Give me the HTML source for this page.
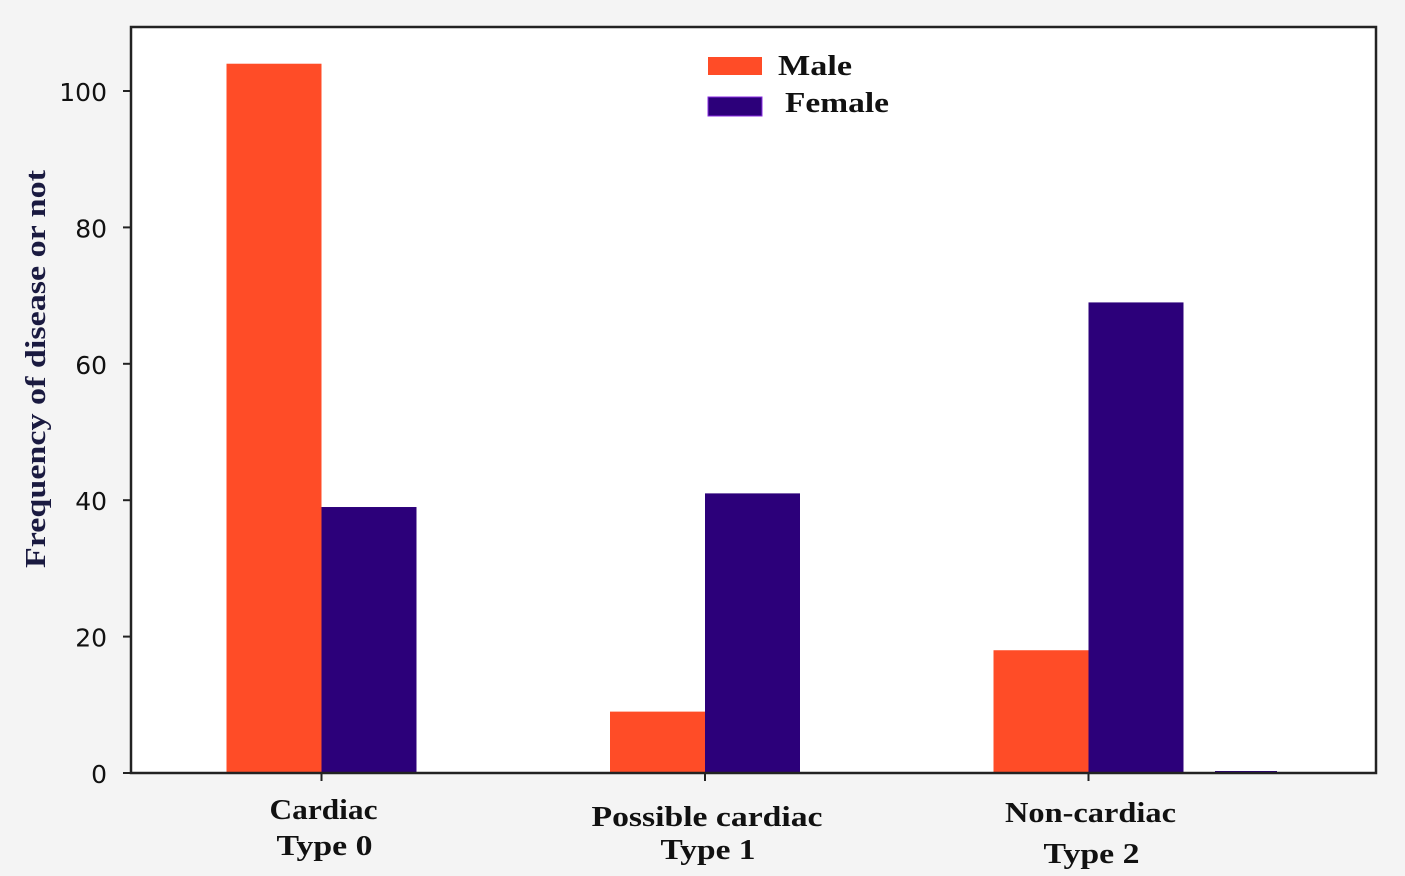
<!DOCTYPE html>
<html><head><meta charset="utf-8"><style>
html,body{margin:0;padding:0;background:#f4f4f4;width:1405px;height:876px;overflow:hidden}
svg{display:block}
</style></head><body>
<svg id="chart" width="1405" height="876" xmlns="http://www.w3.org/2000/svg">
<rect x="0" y="0" width="1405" height="876" fill="#f4f4f4"/>
<rect x="131" y="27" width="1245" height="746" fill="#ffffff"/>
<g id="bars"></g>
<rect x="131" y="27" width="1245" height="746" fill="none" stroke="#222" stroke-width="2.5"/>
<g id="axes"></g>
<text transform="translate(45,369) rotate(-90)" text-anchor="middle" textLength="398" lengthAdjust="spacingAndGlyphs" font-family="Liberation Serif, serif" font-weight="bold" font-size="29" fill="#1a1a40">Frequency of disease or not</text>
<g>
<rect x="708" y="57" width="54" height="18" fill="#ff4c27"/>
<text x="778" y="75" textLength="74" lengthAdjust="spacingAndGlyphs" font-family="Liberation Serif, serif" font-weight="bold" font-size="29" fill="#111">Male</text>
<rect x="708" y="97" width="54" height="19" fill="#2c007a" stroke="#8a2be2" stroke-width="1"/>
<text x="785" y="112" textLength="104" lengthAdjust="spacingAndGlyphs" font-family="Liberation Serif, serif" font-weight="bold" font-size="29" fill="#111">Female</text>
</g>
</svg>
<script>
const categories1 = ["Cardiac", "Possible cardiac", "Non-cardiac"];
const categories2 = ["Type 0", "Type 1", "Type 2"];
const maleValues = [104, 9, 18];
const femaleValues = [39, 41, 69];
const yTicks = [0, 20, 40, 60, 80, 100];
const NS = "http://www.w3.org/2000/svg";
function yScale(v){ return 773 - v * 6.82; }
function xCenter(i){ return 321.5 + i * 383.5; }
const bw = 95;
const bars = document.getElementById('bars');
const axes = document.getElementById('axes');
const lab1Len = [108, 231, 171];
const lab2Len = [96, 95, 96];
const lab1Y = [819, 826, 822];
const lab2Y = [855, 859, 863];
function mk(tag, attrs, parent){ const e=document.createElementNS(NS,tag); for(const k in attrs) e.setAttribute(k,attrs[k]); parent.appendChild(e); return e; }
categories1.forEach((c,i)=>{
  const xc = xCenter(i);
  const m = mk('rect',{x:xc-bw,y:yScale(maleValues[i]),width:bw,height:773-yScale(maleValues[i]),fill:'#ff4c27'},bars);
  
  
  const f = mk('rect',{x:xc,y:yScale(femaleValues[i]),width:bw,height:773-yScale(femaleValues[i]),fill:'#2c007a'},bars);
  
  
  const t = mk('line',{x1:xc,x2:xc,y1:773,y2:781,stroke:'#222','stroke-width':2},axes);
  
  
  const l1 = mk('text',{x:xc+2,y:lab1Y[i],'text-anchor':'middle',textLength:lab1Len[i],lengthAdjust:'spacingAndGlyphs','font-family':'Liberation Serif, serif','font-weight':'bold','font-size':29,fill:'#111'},axes);
  l1.textContent = c;
  
  
  const l2 = mk('text',{x:xc+3,y:lab2Y[i],'text-anchor':'middle',textLength:lab2Len[i],lengthAdjust:'spacingAndGlyphs','font-family':'Liberation Serif, serif','font-weight':'bold','font-size':29,fill:'#111'},axes);
  l2.textContent = categories2[i];
  
  
});
const stray = mk('rect',{x:1215,y:771,width:62,height:2,fill:'#2c007a'},bars);


yTicks.forEach(v=>{
  const y = yScale(v);
  const t = mk('line',{x1:123,x2:131,y1:y,y2:y,stroke:'#222','stroke-width':2},axes);
  
  
  const l = mk('text',{x:107,y:y+10,'text-anchor':'end','font-family':'DejaVu Sans, sans-serif','font-size':25,fill:'#111'},axes);
  l.textContent = v;
  
  
});
</script>
</body></html>
